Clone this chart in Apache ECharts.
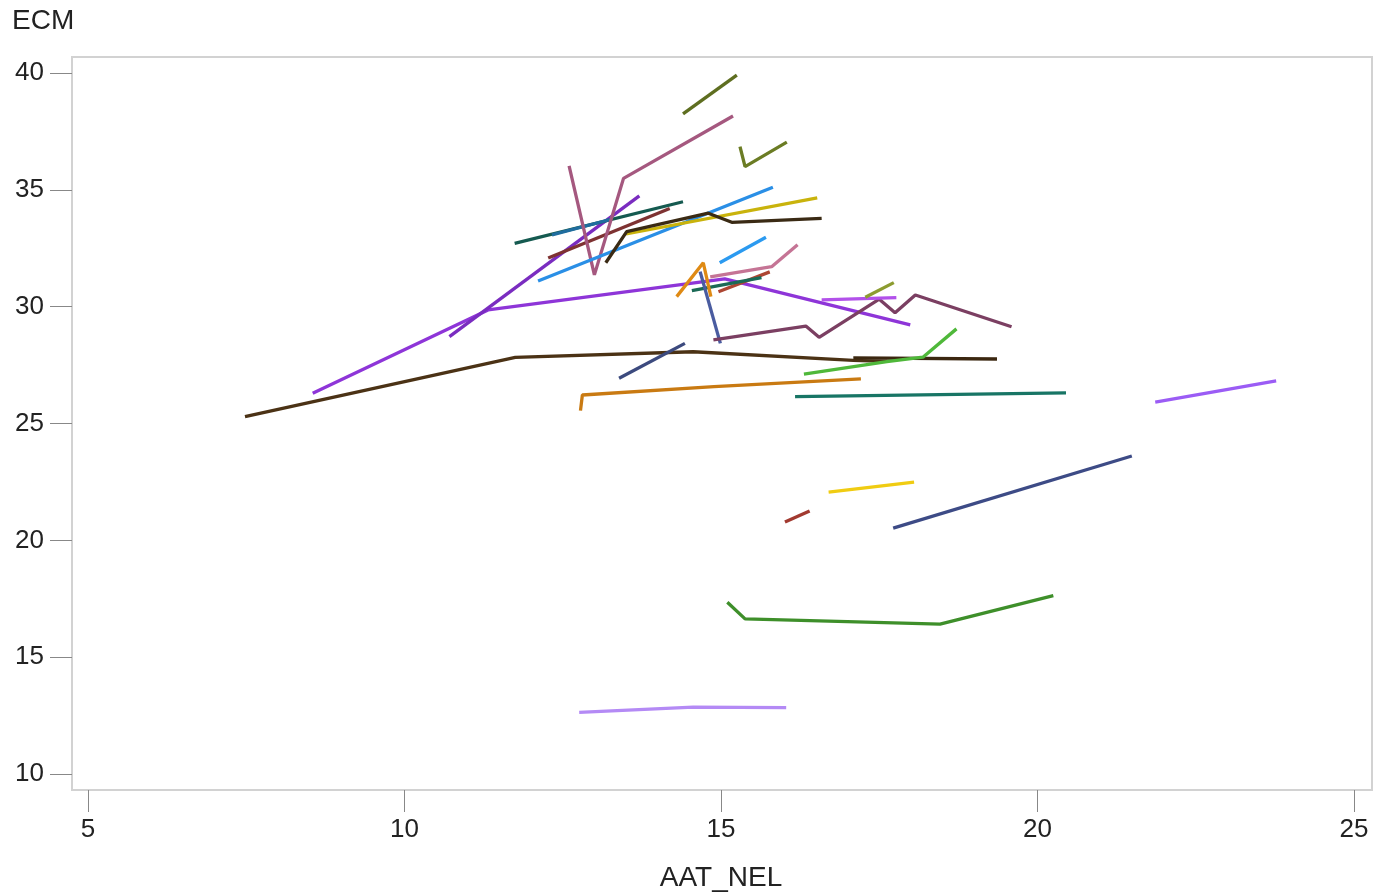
<!DOCTYPE html>
<html>
<head>
<meta charset="utf-8">
<title>ECM vs AAT_NEL</title>
<script src="https://cdn.jsdelivr.net/npm/echarts@6/dist/echarts.min.js"></script>
<style>
  html, body { margin: 0; padding: 0; background: #ffffff; }
  #chart { width: 1375px; height: 893px; }
</style>
</head>
<body>
<div id="chart"></div>
<script>
// Axis ticks
const xTicks = [5, 10, 15, 20, 25];
const yTicks = [10, 15, 20, 25, 30, 35, 40];

// One profile per subject: [AAT_NEL, ECM] pairs
const p01 = [[7.48, 25.29], [11.75, 27.83], [14.56, 28.07], [17.09, 27.70], [17.62, 27.66]];
const p02 = [[17.09, 27.81], [19.36, 27.76]];
const p03 = [[8.55, 26.29], [11.32, 29.86], [15.06, 31.19], [17.99, 29.22]];
const p04 = [[10.71, 28.72], [13.71, 34.74]];
const p05 = [[11.74, 32.71], [14.40, 34.49]];
const p06 = [[12.33, 33.07], [13.25, 33.73]];
const p07 = [[12.27, 32.08], [14.19, 34.20]];
const p08 = [[12.60, 36.03], [13.00, 31.36], [13.46, 35.49], [15.19, 38.16]];
const p09 = [[12.11, 31.10], [15.82, 35.11]];
const p10 = [[13.50, 33.11], [16.52, 34.66]];
const p11 = [[13.18, 31.88], [13.51, 33.21], [14.80, 34.00], [15.17, 33.61], [16.59, 33.78]];
const p12 = [[14.40, 38.25], [15.25, 39.91]];
const p13 = [[15.30, 36.85], [15.38, 35.99], [16.04, 37.04]];
const p14 = [[14.98, 31.88], [15.71, 32.97]];
const p15 = [[14.83, 31.28], [15.80, 31.71], [16.21, 32.65]];
const p16 = [[14.96, 30.64], [15.77, 31.49]];
const p17 = [[14.54, 30.69], [15.64, 31.24]];
const p18 = [[14.30, 30.43], [14.72, 31.88], [14.84, 30.43]];
const p19 = [[14.67, 31.50], [14.99, 28.43]];
const p20 = [[14.88, 28.58], [16.34, 29.17], [16.55, 28.69], [17.50, 30.32], [17.75, 29.74], [18.07, 30.50], [19.59, 29.14]];
const p21 = [[16.59, 30.29], [17.77, 30.39]];
const p22 = [[17.28, 30.40], [17.73, 31.03]];
const p23 = [[13.39, 26.94], [14.43, 28.43]];
const p24 = [[16.31, 27.11], [17.62, 27.65], [18.19, 27.84], [18.72, 29.05]];
const p25 = [[12.78, 25.55], [12.81, 26.22], [14.89, 26.58], [17.21, 26.91]];
const p26 = [[16.17, 26.15], [20.45, 26.31]];
const p27 = [[21.86, 25.92], [23.77, 26.82]];
const p28 = [[16.70, 22.06], [18.05, 22.49]];
const p29 = [[16.01, 20.78], [16.40, 21.26]];
const p30 = [[17.72, 20.52], [21.49, 23.61]];
const p31 = [[15.10, 17.35], [15.38, 16.64], [18.46, 16.41], [20.25, 17.63]];
const p32 = [[12.76, 12.64], [14.56, 12.86], [16.03, 12.84]];

const profiles = [p01, p02, p03, p04, p05, p06, p07, p08, p09, p10, p11, p12, p13, p14, p15, p16,
                  p17, p18, p19, p20, p21, p22, p23, p24, p25, p26, p27, p28, p29, p30, p31, p32];
const colors = ['#4b3215', '#3b2710', '#8e35d8', '#7a2cc0', '#155a50', '#1f6d9f', '#7e3232', '#a5587f',
                '#2a8fe6', '#c9b30c', '#3a2a14', '#5e6e20', '#6b7c24', '#2b9af0', '#c57495', '#ad4632',
                '#1b6a56', '#df8a14', '#4a5ca0', '#7b3f62', '#b251ea', '#8c9c30', '#3c4a7e', '#4fb83a',
                '#c97a12', '#187565', '#9b5cf5', '#f0cc12', '#a23a30', '#3d4b86', '#3e8f2a', '#b48af5'];

const chart = echarts.init(document.getElementById('chart'), null, { renderer: 'canvas' });

const fontFamily = 'Liberation Sans, Arial, sans-serif';
const tickText = { color: '#222222', fontSize: 26, fontFamily: fontFamily };

chart.setOption({
  animation: false,
  backgroundColor: '#ffffff',
  grid: { left: 88, right: 21, top: 73, bottom: 119, containLabel: false, outerBoundsMode: 'none' },
  graphic: [{
    type: 'rect',
    shape: { x: 72, y: 57, width: 1300, height: 733 },
    style: { fill: 'none', stroke: '#d2d2d2', lineWidth: 2 },
    z: 0
  }],
  xAxis: {
    type: 'value',
    min: xTicks[0],
    max: xTicks[xTicks.length - 1],
    interval: 5,
    offset: 16,
    name: 'AAT_NEL',
    nameLocation: 'middle',
    nameGap: 74,
    nameTextStyle: { color: '#222222', fontSize: 28, fontFamily: fontFamily },
    axisLine: { show: false },
    axisTick: { show: true, length: 22, lineStyle: { color: '#888888', width: 1 } },
    axisLabel: Object.assign({ margin: 27 }, tickText),
    splitLine: { show: false }
  },
  yAxis: {
    type: 'value',
    min: yTicks[0],
    max: yTicks[yTicks.length - 1],
    interval: 5,
    offset: 16,
    name: 'ECM',
    nameLocation: 'end',
    nameGap: 52,
    nameTextStyle: { color: '#222222', fontSize: 28, fontFamily: fontFamily, align: 'left', verticalAlign: 'middle', padding: [0, 0, 0, -60] },
    axisLine: { show: false },
    axisTick: { show: true, length: 22, lineStyle: { color: '#888888', width: 1 } },
    axisLabel: Object.assign({ margin: 28 }, tickText),
    splitLine: { show: false }
  },
  series: profiles.map((pts, i) => ({
    type: 'line',
    data: pts,
    showSymbol: false,
    symbol: 'none',
    clip: false,
    lineStyle: { color: colors[i], width: 3.3 },
    itemStyle: { color: colors[i] },
    z: 2 + i
  }))
});
</script>
</body>
</html>
